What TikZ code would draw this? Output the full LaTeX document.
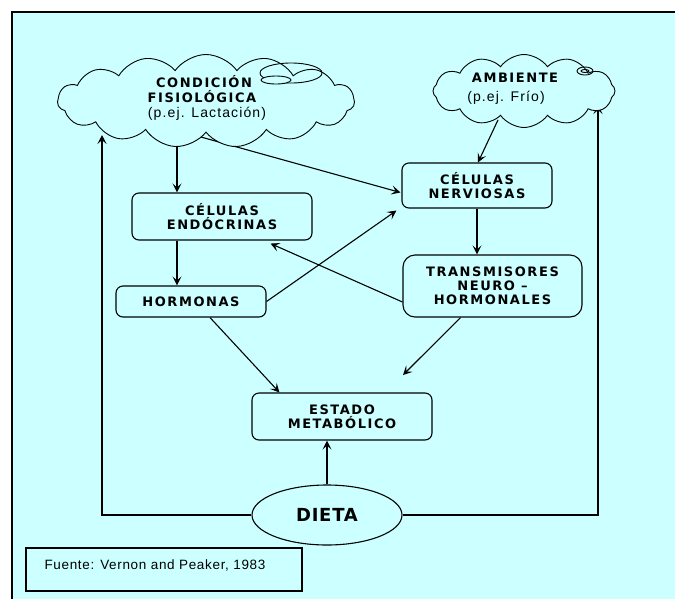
\documentclass[tikz,border=0pt]{standalone}
\usepackage{fontspec}
\setmainfont{Liberation Sans}
\newfontfamily\capsfont{DejaVu Sans}[LetterSpace=12]
\newfontfamily\bigcapsfont{DejaVu Sans}[LetterSpace=4]
\newfontfamily\plainfont{Liberation Sans}[LetterSpace=8]
\newfontfamily\notefont{Liberation Sans}[LetterSpace=5]
\usetikzlibrary{shapes.symbols,shapes.geometric,arrows.meta,calc}
\definecolor{panelcyan}{RGB}{204,255,255}
\pgfdeclarelayer{panel}
\pgfdeclarelayer{links}
\pgfsetlayers{panel,links,main}

\tikzset{
  boxnode/.style={draw=black, line width=1.1pt, rounded corners=7pt, align=center,
    inner sep=0pt, fill=panelcyan, font=\capsfont\bfseries\fontsize{13}{14}\selectfont},
  cloudnode/.style={cloud, draw=black, fill=panelcyan, line width=0.9pt, inner sep=0pt,
    cloud puffs=15, cloud puff arc=110},
  capstext/.style={font=\capsfont\bfseries\fontsize{13}{14}\selectfont, inner sep=0pt},
  sanstext/.style={font=\plainfont\fontsize{14}{16}\selectfont, inner sep=0pt},
  arr/.style={line width=1.1pt, -{Stealth[length=9pt,width=9pt,inset=4pt]}},
  thin/.style={line width=0.9pt}
}

\begin{document}
\begin{tikzpicture}[x=1pt,y=-1pt]
\useasboundingbox (0,0) rectangle (675,598);

% panel (runs off the right and bottom edges)
\begin{pgfonlayer}{panel}
\fill[panelcyan] (12,12) rectangle (680,603);
\draw[line width=1.2pt] (12,603) -- (12,12) -- (680,12);
\end{pgfonlayer}

% clouds
\node[cloudnode, minimum width=297pt, minimum height=93pt] (condicion) at (206,101) {};
\node[cloudnode, cloud puffs=12, minimum width=182pt, minimum height=73pt] (ambiente) at (524,91) {};
\draw[thin] (291,73) ellipse [x radius=31pt, y radius=10pt];
\draw[thin, fill=panelcyan] (276,80) ellipse [x radius=15pt, y radius=4pt];
\draw[thin] (585,71) ellipse [x radius=8pt, y radius=4pt];
\draw[thin] (585,71) ellipse [x radius=4pt, y radius=1.5pt];

\node[capstext] (cond1) at (204,82) {CONDICIÓN};
\node[capstext] (cond2) at (202,97) {FISIOLÓGICA};
\node[sanstext] (cond3) at (207,114) {(p.ej. Lactación)};
\node[capstext] (amb1) at (515,78) {AMBIENTE};
\node[sanstext] (amb2) at (506,98) {(p.ej. Frío)};

% boxes
\node[boxnode, minimum width=150pt, minimum height=45pt] (nerv) at (477,185.5) {CÉLULAS\\NERVIOSAS};
\node[boxnode, minimum width=180pt, minimum height=47pt] (endo) at (222,216.5) {CÉLULAS\\ENDÓCRINAS};
\node[boxnode, minimum width=150pt, minimum height=31pt] (horm) at (191,301.5) {HORMONAS};
\node[boxnode, rounded corners=12pt, minimum width=179pt, minimum height=62pt] (trans) at (492.5,286) {TRANSMISORES\\NEURO –\\HORMONALES};
\node[boxnode, minimum width=180pt, minimum height=47pt] (estado) at (342,416.5) {ESTADO\\METABÓLICO};
\node[ellipse, draw=black, line width=1.1pt, fill=panelcyan, minimum width=150pt, minimum height=60pt,
  inner sep=0pt, font=\bigcapsfont\bfseries\fontsize{18}{20}\selectfont] (dieta) at (327,515) {DIETA};

% source note
\node[draw=black, line width=1.1pt, minimum width=276pt, minimum height=43pt, inner sep=0pt] (fuente) at (164,569.5) {};
\node[font=\notefont\fontsize{13.5}{15}\selectfont, inner sep=0pt] (fuentetext) at (155,565) {Fuente: Vernon and Peaker, 1983};

% free ends
\coordinate (lcol) at (177,0);
\coordinate (lfree) at (102,135);
\coordinate (rfree) at (598,105);
\coordinate (tfree) at (403,375);

% connectors, kept beneath the filled shapes
\begin{pgfonlayer}{links}
\draw[arr] (condicion.center -| lcol) -- (endo.north -| lcol);
\draw[arr] (endo.south -| lcol) -- (horm.north -| lcol);
\draw[arr] ($(condicion.south)+(-20,0)$) -- ($(nerv.west)+(-1,7)$);
\draw[arr] (horm.east) -- ($(nerv.south west)+(-5,2)$);
\draw[arr] ($(trans.west)+(0,16)$) -- ($(endo.south east)+(-42,3)$);
\draw[arr] ($(horm.south)+(19,0)$) -- ($(estado.north west)+(28,0)$);
\draw[arr] ($(trans.south)+(-32,0)$) -- (tfree);
\draw[arr] (nerv.south) -- (nerv.south |- trans.north);
\draw[arr] ($(ambiente.south)+(-26,-8)$) -- ($(nerv.north)+(1,0)$);
\draw[arr] (dieta.north) -- (dieta.north |- estado.south);
\draw[arr] (dieta.west) -| (lfree);
\draw[arr] (dieta.east) -| (rfree);
\end{pgfonlayer}
\end{tikzpicture}
\end{document}
